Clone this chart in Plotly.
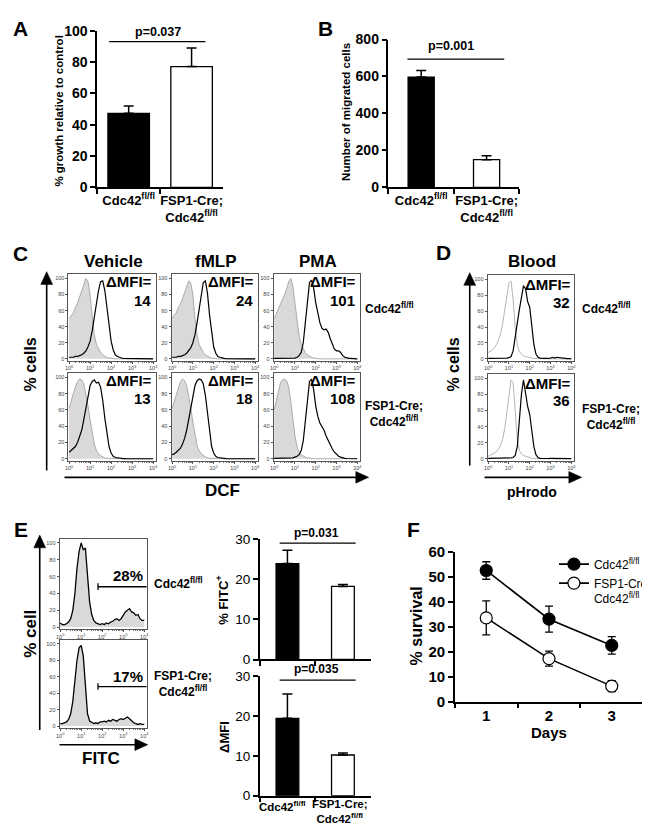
import numpy as np
import plotly.graph_objects as go

W, H = 650, 826
FONT = "Arial, 'Liberation Sans', sans-serif"

# ---------------- data ----------------
GROUPS = ["Cdc42<sup>fl/fl</sup>", "FSP1-Cre;<br>Cdc42<sup>fl/fl</sup>"]
LEGEND_NAMES = ["Cdc42<sup>fl/fl</sup>", "FSP1-Cre;<br>Cdc42<sup>fl/fl</sup>"]

A_GROWTH = [47.3, 77.1]
A_GROWTH_ERR = [4.6, 11.8]
A_P = "p=0.037"

B_MIGRATED = [597, 150]
B_MIGRATED_ERR = [36, 21]
B_P = "p=0.001"

E_FITC_POS = [23.9, 18.2]
E_FITC_POS_ERR = [3.3, 0.5]
E_FITC_P = "p=0.031"
E_DMFI = [19.4, 10.2]
E_DMFI_ERR = [6.1, 0.5]
E_DMFI_P = "p=0.035"

F_DAYS = ["1", "2", "3"]
F_CDC42 = [52.5, 33.0, 22.5]
F_CDC42_ERR = [3.5, 5.2, 3.5]
F_FSP1 = [33.5, 17.2, 6.2]
F_FSP1_ERR = [6.8, 3.0, 2.2]

C_TREATMENTS = ["Vehicle", "fMLP", "PMA"]
C_DMFI = [["14", "24", "101"], ["13", "18", "108"]]
D_DMFI = ["32", "36"]
E_PCT = ["28%", "17%"]

# log10 fluorescence grid for the flow histograms (10^0 ... 10^4)
LOG_GRID = [0.0, 0.1, 0.2, 0.3, 0.4, 0.5, 0.6, 0.7, 0.8, 0.9,
            1.0, 1.1, 1.2, 1.3, 1.4, 1.5, 1.6, 1.7, 1.8, 1.9,
            2.0, 2.1, 2.2, 2.3, 2.4, 2.5, 2.6, 2.7, 2.8, 2.9,
            3.0, 3.1, 3.2, 3.3, 3.4, 3.5, 3.6, 3.7, 3.8, 3.9,
            4.0]

# panel C: row 1 = Cdc42 fl/fl, row 2 = FSP1-Cre; Cdc42 fl/fl  (% of max)
C_R1_VEH_CTRL = [50, 54, 57, 64, 69, 77, 84, 92, 100, 96,
                 80, 52, 30, 18, 12, 8, 5, 3, 1.5, 1,
                 0.5, 0, 0, 0, 0, 0, 0, 0, 0, 0,
                 0, 0, 0, 0, 0, 0, 0, 0, 0, 0,
                 0]
C_R1_VEH_DCF = [2, 2, 2, 3, 3, 4, 5, 7, 10, 15,
                22, 35, 52, 70, 85, 96, 97, 85, 62, 40,
                22, 11, 5, 3, 1.5, 1, 0.5, 0.5, 0.3, 0.2,
                0.2, 0.1, 0, 0, 0, 0, 0, 0, 0, 0,
                0]
C_R1_FMLP_CTRL = [50, 55, 57, 64, 68, 76, 81, 91, 97, 94,
                  80, 50, 30, 18, 12, 8, 5, 3, 2, 1,
                  0.5, 0, 0, 0, 0, 0, 0, 0, 0, 0,
                  0, 0, 0, 0, 0, 0, 0, 0, 0, 0,
                  0]
C_R1_FMLP_DCF = [2, 2, 2, 3, 3, 4, 5, 7, 10, 14,
                 20, 30, 45, 62, 80, 95, 97, 82, 55, 32,
                 15, 7, 3, 2, 1, 0.5, 0.3, 0.2, 0.1, 0,
                 0, 0, 0, 0, 0, 0, 0, 0, 0, 0,
                 0]
C_R1_PMA_CTRL = [50, 56, 60, 66, 72, 80, 87, 96, 100, 90,
                 70, 45, 28, 18, 12, 8, 5, 3, 2, 1,
                 0.5, 0, 0, 0, 0, 0, 0, 0, 0, 0,
                 0, 0, 0, 0, 0, 0, 0, 0, 0, 0,
                 0]
C_R1_PMA_DCF = [0.5, 0.5, 0.5, 0.5, 0.5, 0.5, 0.5, 0.5, 1, 1,
                1, 2, 4, 8, 20, 45, 75, 95, 98, 88,
                70, 55, 45, 38, 36, 37, 33, 25, 18, 12,
                10, 10, 8, 4, 2, 1, 0.5, 0.5, 0.3, 0.2,
                0]
C_R2_VEH_CTRL = [62, 72, 80, 88, 95, 98, 97, 92, 80, 65,
                 48, 30, 18, 10, 6, 4, 2, 1, 0.5, 0.3,
                 0.2, 0, 0, 0, 0, 0, 0, 0, 0, 0,
                 0, 0, 0, 0, 0, 0, 0, 0, 0, 0,
                 0]
C_R2_VEH_DCF = [8, 10, 12, 15, 20, 27, 35, 48, 62, 78,
                90, 95, 97, 93, 94, 88, 72, 50, 30, 15,
                7, 3, 1.5, 1, 0.5, 0.3, 0.2, 0.1, 0, 0,
                0, 0, 0, 0, 0, 0, 0, 0, 0, 0,
                0]
C_R2_FMLP_CTRL = [62, 70, 80, 88, 95, 98, 96, 90, 78, 62,
                  45, 28, 16, 10, 6, 4, 2, 1, 0.5, 0.3,
                  0.2, 0, 0, 0, 0, 0, 0, 0, 0, 0,
                  0, 0, 0, 0, 0, 0, 0, 0, 0, 0,
                  0]
C_R2_FMLP_DCF = [5, 6, 8, 10, 13, 18, 25, 35, 48, 62,
                 78, 90, 96, 98, 97, 92, 78, 55, 32, 15,
                 7, 3, 1.5, 1, 0.5, 0.3, 0.2, 0, 0, 0,
                 0, 0, 0, 0, 0, 0, 0, 0, 0, 0,
                 0]
C_R2_PMA_CTRL = [60, 72, 85, 93, 97, 98, 96, 88, 70, 48,
                 28, 15, 8, 5, 3, 2, 1, 0.5, 0.3, 0.2,
                 0, 0, 0, 0, 0, 0, 0, 0, 0, 0,
                 0, 0, 0, 0, 0, 0, 0, 0, 0, 0,
                 0]
C_R2_PMA_DCF = [0.5, 0.5, 0.5, 0.5, 0.5, 0.5, 0.5, 0.5, 0.5, 1,
                2, 3, 5, 10, 22, 45, 75, 95, 98, 85,
                65, 52, 44, 40, 35, 28, 22, 17, 12, 8,
                5, 3, 2, 1, 0.5, 0.3, 0.2, 0.1, 0, 0,
                0]

# panel D (blood, pHrodo)
D_R1_CTRL = [8, 9, 11, 14, 18, 24, 32, 45, 62, 82,
             96, 98, 75, 40, 18, 9, 6, 4, 3, 2,
             1.5, 1, 0.5, 0.3, 0.2, 0.1, 0, 0, 0, 0,
             0, 0, 0, 0, 0, 0, 0, 0, 0, 0,
             0]
D_R1_PHRODO = [0.5, 0.5, 0.5, 0.5, 0.5, 0.5, 0.8, 0.8, 1, 1,
               1.5, 3, 10, 25, 45, 62, 80, 92, 88, 72,
               65, 40, 18, 6, 2, 1, 0.5, 0.5, 0.5, 0.5,
               1, 2, 1, 2, 1.5, 1, 0.5, 0.5, 0.3, 0.3,
               0.2]
D_R2_CTRL = [3, 4, 5, 7, 9, 12, 17, 25, 38, 58,
             82, 98, 95, 60, 25, 10, 6, 4, 3, 2,
             1, 0.5, 0.3, 0.2, 0.1, 0, 0, 0, 0, 0,
             0, 0, 0, 0, 0, 0, 0, 0, 0, 0,
             0]
D_R2_PHRODO = [0.5, 0.5, 0.5, 0.5, 0.5, 0.5, 0.5, 0.8, 0.8, 1,
               1, 1, 1.5, 4, 15, 45, 80, 98, 80, 65,
               55, 35, 15, 5, 1.5, 0.5, 0.3, 0.3, 0.3, 0.3,
               0.5, 0.5, 0.5, 0.3, 0.3, 0.3, 1, 0.5, 0.3, 0.2,
               0.2]

# panel E (FITC)
E_R1_FITC = [5, 3, 3, 4, 6, 10, 20, 40, 70, 90,
             100, 92, 94, 60, 30, 15, 8, 5, 4, 3,
             4, 3, 5, 4, 6, 7, 9, 10, 8, 10,
             14, 18, 20, 22, 18, 17, 14, 15, 10, 8,
             8]
E_R2_FITC = [3, 3, 4, 5, 8, 15, 30, 55, 80, 95,
             98, 85, 45, 15, 6, 4, 3, 4, 3, 5,
             5, 6, 5, 7, 6, 8, 7, 6, 8, 9,
             8, 10, 11, 9, 6, 4, 3, 2, 3, 2,
             2]
E_GATE_START = 1.8
E_GATE_LEVEL = 48

HIST_TICKS = [0, 1, 2, 3, 4]
HIST_TICKTEXT = ["10<sup>0</sup>", "10<sup>1</sup>", "10<sup>2</sup>", "10<sup>3</sup>", "10<sup>4</sup>"]
HIST_MINOR = [float(np.log10(m * 10 ** d)) for d in range(4) for m in range(2, 10)]

# ---------------- helpers ----------------
def X(px):
    return px / W


def Y(py):
    return 1 - py / H


layout = dict(width=W, height=H, margin=dict(l=0, r=0, t=0, b=0),
              paper_bgcolor="white", plot_bgcolor="white",
              font=dict(family=FONT, color="black"), showlegend=True)
annotations = []
shapes = []
traces = []


def suffix(n):
    return "" if n == 1 else str(n)


def set_axes(n, xpx, ypx, xcfg, ycfg):
    layout["xaxis" + suffix(n)] = dict(domain=[X(xpx[0]), X(xpx[1])], anchor="y" + suffix(n),
                                       showgrid=False, zeroline=False, fixedrange=True, **xcfg)
    layout["yaxis" + suffix(n)] = dict(domain=[Y(ypx[1]), Y(ypx[0])], anchor="x" + suffix(n),
                                       showgrid=False, zeroline=False, fixedrange=True, **ycfg)


def ann(text, x, y, size, bold=True, xanchor="center", yanchor="middle", textangle=0, color="black"):
    annotations.append(dict(text=text, x=X(x), y=Y(y), xref="paper", yref="paper",
                            showarrow=False, xanchor=xanchor, yanchor=yanchor, textangle=textangle,
                            font=dict(size=size, family=FONT, color=color,
                                      weight="bold" if bold else "normal")))


def vline_arrow(x, ytop, ybot):
    shapes.append(dict(type="line", xref="paper", yref="paper", x0=X(x), x1=X(x),
                       y0=Y(ybot), y1=Y(ytop + 12), line=dict(color="black", width=1.6)))
    path = "M %f,%f L %f,%f L %f,%f Z" % (X(x - 6), Y(ytop + 13), X(x + 6), Y(ytop + 13), X(x), Y(ytop))
    shapes.append(dict(type="path", xref="paper", yref="paper", path=path,
                       fillcolor="black", line=dict(color="black", width=0.5)))


def hline_arrow(y, xl, xr):
    shapes.append(dict(type="line", xref="paper", yref="paper", x0=X(xl), x1=X(xr - 12),
                       y0=Y(y), y1=Y(y), line=dict(color="black", width=1.6)))
    path = "M %f,%f L %f,%f L %f,%f Z" % (X(xr - 13), Y(y - 6), X(xr - 13), Y(y + 6), X(xr), Y(y))
    shapes.append(dict(type="path", xref="paper", yref="paper", path=path,
                       fillcolor="black", line=dict(color="black", width=0.5)))


def bar_panel(n, xpx, ypx, yrange, ytickvals, vals, errs, tickfont, ylabel_font, show_x=True,
              width=0.66, err_w=5):
    set_axes(n, xpx, ypx,
             dict(type="category", range=[-0.5, 1.5], tickson="boundaries", ticks="outside",
                  ticklen=5, tickwidth=1.5, tickcolor="black", showline=True, linewidth=1.5,
                  linecolor="black", tickfont=tickfont, showticklabels=show_x, tickangle=0),
             dict(range=yrange, tickvals=ytickvals, ticks="outside", ticklen=5, tickwidth=1.5,
                  tickcolor="black", showline=True, linewidth=1.5, linecolor="black",
                  tickfont=ylabel_font))
    traces.append(go.Bar(x=GROUPS, y=vals, width=width,
                         marker=dict(color=["black", "white"], line=dict(color="black", width=1.3)),
                         error_y=dict(type="data", symmetric=False, array=errs, arrayminus=[0, 0],
                                      color="black", thickness=1.5, width=err_w),
                         xaxis="x" + suffix(n), yaxis="y" + suffix(n), showlegend=False,
                         hoverinfo="skip"))


def p_line(n, x0, x1, yline):
    shapes.append(dict(type="line", xref="x" + suffix(n), yref="y" + suffix(n),
                       x0=x0, x1=x1, y0=yline, y1=yline, line=dict(color="black", width=1.2)))


def hist_panel(n, xpx, ypx, yr):
    tf = dict(size=5.5, color="#444", family=FONT)
    set_axes(n, xpx, ypx,
             dict(range=[-0.03, 4.12], tickvals=HIST_TICKS, ticktext=HIST_TICKTEXT, tickfont=tf,
                  ticks="outside", ticklen=2, tickcolor="#555", showline=True, mirror=True,
                  linecolor="#555", linewidth=1, tickangle=0,
                  minor=dict(tickvals=HIST_MINOR, ticks="outside", ticklen=1, tickcolor="#777")),
             dict(range=yr, tickvals=[0, 20, 40, 60, 80, 100], tickfont=tf, ticks="outside",
                  ticklen=2, tickcolor="#555", showline=True, mirror=True, linecolor="#555",
                  linewidth=1))


def hist_fill(n, ys, outline="#9a9a9a", lw=0.8):
    traces.append(go.Scatter(x=LOG_GRID, y=ys, mode="lines", fill="tozeroy", fillcolor="#d9d9d9",
                             line=dict(color=outline, width=lw), xaxis="x" + suffix(n),
                             yaxis="y" + suffix(n), showlegend=False, hoverinfo="skip"))


def hist_line(n, ys, color="black", lw=1.2):
    traces.append(go.Scatter(x=LOG_GRID, y=ys, mode="lines", line=dict(color=color, width=lw),
                             xaxis="x" + suffix(n), yaxis="y" + suffix(n), showlegend=False,
                             hoverinfo="skip"))


# ---------------- panel A ----------------
bold14 = dict(size=14, family=FONT, weight="bold", color="black")
bold13 = dict(size=13, family=FONT, weight="bold", color="black")
bar_panel(1, (86, 213), (14, 174), [0, 100], [0, 20, 40, 60, 80, 100], A_GROWTH, A_GROWTH_ERR,
          bold13, bold14)
p_line(1, -0.31, 1.22, 93)
ann(A_P, 147, 15, 12.5)
ann("A", 9, 12, 21)
ann("% growth relative to control", 47, 96, 11.5, textangle=-90)

# ---------------- panel B ----------------
bar_panel(2, (380, 512), (23, 174), [0, 800], [0, 200, 400, 600, 800], B_MIGRATED, B_MIGRATED_ERR,
          bold13, bold14, width=0.4)
p_line(2, -0.21, 1.27, 694)
ann(B_P, 443, 30, 12.5)
ann("B", 316, 12, 21)
ann("Number of migrated cells", 337, 97, 11.5, textangle=-90)

# ---------------- panel C ----------------
C_COLS = [(57, 145), (161, 248), (264, 351)]
C_ROWS = [(262, 351), (363, 453)]
C_DATA = [[(C_R1_VEH_CTRL, C_R1_VEH_DCF), (C_R1_FMLP_CTRL, C_R1_FMLP_DCF), (C_R1_PMA_CTRL, C_R1_PMA_DCF)],
          [(C_R2_VEH_CTRL, C_R2_VEH_DCF), (C_R2_FMLP_CTRL, C_R2_FMLP_DCF), (C_R2_PMA_CTRL, C_R2_PMA_DCF)]]
n = 3
for r, (y0, y1) in enumerate(C_ROWS):
    for c, (x0, x1) in enumerate(C_COLS):
        hist_panel(n, (x0, x1), (y0, y1), [-2.4, 106])
        ctrl, dcf = C_DATA[r][c]
        hist_fill(n, ctrl)
        hist_line(n, dcf)
        ann("ΔMFI=", x1 - 2, y0 + 8, 15, xanchor="right")
        ann(C_DMFI[r][c], x1 - 3, y0 + 27, 15, xanchor="right")
        n += 1
for c, (x0, x1) in enumerate(C_COLS):
    ann(C_TREATMENTS[c], (x0 + x1) / 2 + 1, 250, 17)
ann("C", 9, 241, 21)
ann("% cells", 19, 355, 16, textangle=-90)
vline_arrow(35, 260, 463)
hline_arrow(470, 53, 360)
ann("DCF", 212, 483, 17)
ann("Cdc42<sup>fl/fl</sup>", 354, 297, 12, xanchor="left")
ann("FSP1-Cre;<br>Cdc42<sup>fl/fl</sup>", 354, 405, 12, xanchor="left")

# ---------------- panel D ----------------
D_X = (480, 567)
D_DATA = [(D_R1_CTRL, D_R1_PHRODO), (D_R2_CTRL, D_R2_PHRODO)]
for r, (y0, y1) in enumerate(C_ROWS):
    hist_panel(n, D_X, (y0 + 1, y1), [-2.4, 106])
    ctrl, ph = D_DATA[r]
    hist_line(n, ctrl, color="#b5b5b5", lw=1.0)
    hist_line(n, ph)
    ann("ΔMFI=", D_X[1] - 1, y0 + 11, 15, xanchor="right")
    ann(D_DMFI[r], D_X[1] - 2, y0 + 29, 15, xanchor="right")
    n += 1
ann("Blood", 525, 250, 17)
ann("D", 436, 240, 21)
ann("% cells", 446, 355, 16, textangle=-90)
vline_arrow(462, 261, 458)
hline_arrow(470, 477, 575)
ann("pHrodo", 525, 485, 14)
ann("Cdc42<sup>fl/fl</sup>", 573, 297, 12, xanchor="left")
ann("FSP1-Cre;<br>Cdc42<sup>fl/fl</sup>", 573, 408, 12, xanchor="left")

# ---------------- panel E (histograms) ----------------
E_X = (48, 136)
E_ROWS = [(533, 625), (636, 726)]
E_DATA = [E_R1_FITC, E_R2_FITC]
for r, (y0, y1) in enumerate(E_ROWS):
    hist_panel(n, E_X, (y0, y1), [-2.4, 104.7])
    hist_fill(n, E_DATA[r], outline="black", lw=1.3)
    shapes.append(dict(type="line", xref="x" + suffix(n), yref="y" + suffix(n),
                       x0=E_GATE_START, x1=4.12, y0=E_GATE_LEVEL, y1=E_GATE_LEVEL,
                       line=dict(color="black", width=1.3)))
    shapes.append(dict(type="line", xref="x" + suffix(n), yref="y" + suffix(n),
                       x0=E_GATE_START, x1=E_GATE_START, y0=E_GATE_LEVEL - 4, y1=E_GATE_LEVEL + 4,
                       line=dict(color="black", width=1.3)))
    ann(E_PCT[r], E_X[1] - 2, y0 + 37, 15, xanchor="right")
    n += 1
ann("E", 9, 523, 21)
ann("% cell", 18, 630, 17, textangle=-90)
vline_arrow(28, 529, 728)
hline_arrow(743, 48, 137)
ann("FITC", 90, 757, 17)
ann("Cdc42<sup>fl/fl</sup>", 141, 578, 12, xanchor="left")
ann("FSP1-Cre;<br>Cdc42<sup>fl/fl</sup>", 141, 681, 12, xanchor="left")

# ---------------- panel E (bars) ----------------
reg13 = dict(size=13.5, family=FONT, color="black")
bold12 = dict(size=12, family=FONT, weight="bold", color="black")
bar_panel(n, (250, 362), (533, 656), [0, 30], [0, 10, 20, 30], E_FITC_POS, E_FITC_POS_ERR,
          bold12, reg13, show_x=False, width=0.41, err_w=5)
p_line(n, -0.14, 1.23, 29.0)
ann(E_FITC_P, 307, 527, 12)
n += 1
bar_panel(n, (250, 362), (673, 795), [0, 30], [0, 10, 20, 30], E_DMFI, E_DMFI_ERR,
          bold12, reg13, show_x=False, width=0.41, err_w=5)
p_line(n, -0.14, 1.23, 29.0)
ann(E_DMFI_P, 307, 666, 12)
n += 1
ann(GROUPS[0], 273, 806, 11.5)
ann(GROUPS[1], 331, 811, 11.5)
ann("% FITC<sup>+</sup>", 212, 596, 13, textangle=-90)
ann("ΔMFI", 215, 735, 13, textangle=-90)

# ---------------- panel F ----------------
bold15 = dict(size=15, family=FONT, weight="bold", color="black")
set_axes(n, (447, 637), (546, 699),
         dict(type="category", range=[-0.5, 2.5], tickson="boundaries", ticks="outside", ticklen=5,
              tickwidth=1.5, tickcolor="black", showline=True, linewidth=1.5, linecolor="black",
              tickfont=bold15, tickangle=0),
         dict(range=[0, 60], dtick=10, ticks="outside", ticklen=5, tickwidth=1.5, tickcolor="black",
              showline=True, linewidth=1.5, linecolor="black", tickfont=bold15))
traces.append(go.Scatter(x=F_DAYS, y=F_CDC42, mode="lines+markers", name=LEGEND_NAMES[0],
                         line=dict(color="black", width=1.6),
                         marker=dict(size=12, color="black", line=dict(color="black", width=1.2)),
                         error_y=dict(type="data", array=F_CDC42_ERR, color="black", thickness=1.3, width=4),
                         xaxis="x" + suffix(n), yaxis="y" + suffix(n), hoverinfo="skip"))
traces.append(go.Scatter(x=F_DAYS, y=F_FSP1, mode="lines+markers", name=LEGEND_NAMES[1],
                         line=dict(color="black", width=1.6),
                         marker=dict(size=12, color="white", line=dict(color="black", width=1.2)),
                         error_y=dict(type="data", array=F_FSP1_ERR, color="black", thickness=1.3, width=4),
                         xaxis="x" + suffix(n), yaxis="y" + suffix(n), hoverinfo="skip"))
ann("F", 405, 523, 21)
ann("% survival", 408, 622, 16, textangle=-90)
ann("Days", 542, 731, 15)

layout["legend"] = dict(x=X(547), y=Y(544), xanchor="left", yanchor="top", bgcolor="rgba(0,0,0,0)",
                        font=dict(size=12, family=FONT, color="black"), itemwidth=30,
                        tracegroupgap=2, valign="top")
layout["annotations"] = annotations
layout["shapes"] = shapes

fig = go.Figure(data=traces, layout=layout)
fig.write_html("out.html")
